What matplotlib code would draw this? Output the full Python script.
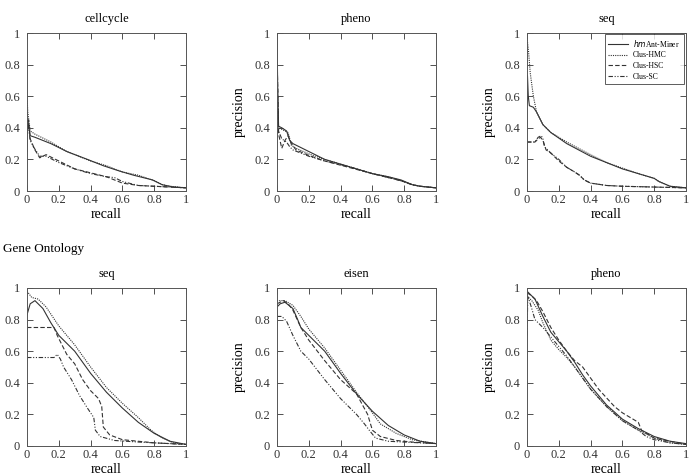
import matplotlib
matplotlib.use('Agg')
import matplotlib.pyplot as plt

plt.rcParams['font.family'] = ['Liberation Serif', 'DejaVu Serif']

# ---- data ----
methods = ['hmAnt-Miner', 'Clus-HMC', 'Clus-HSC', 'Clus-SC']
legend_labels = ['$\\it{hm}$Ant-Miner', 'Clus-HMC', 'Clus-HSC', 'Clus-SC']

# FunCat cellcycle
cc_ant_r = [0, 0.005, 0.02, 0.05, 0.15, 0.25, 0.38, 0.48, 0.57, 0.67, 0.79, 0.85, 0.92, 1]
cc_ant_p = [0.25, 0.45, 0.35, 0.34, 0.30, 0.25, 0.20, 0.16, 0.13, 0.10, 0.07, 0.04, 0.025, 0.02]
cc_hmc_r = [0, 0.005, 0.02, 0.05, 0.15, 0.25, 0.4, 0.5, 0.6, 0.7, 0.8, 0.85, 0.9, 1]
cc_hmc_p = [0.6, 0.5, 0.38, 0.36, 0.31, 0.25, 0.19, 0.16, 0.12, 0.10, 0.065, 0.04, 0.03, 0.02]
cc_hsc_r = [0, 0.01, 0.02, 0.05, 0.08, 0.1, 0.12, 0.2, 0.3, 0.4, 0.5, 0.55, 0.6, 0.7, 0.8, 1]
cc_hsc_p = [0.35, 0.45, 0.33, 0.26, 0.21, 0.22, 0.23, 0.19, 0.14, 0.115, 0.09, 0.07, 0.05, 0.035, 0.03, 0.02]
cc_sc_r = [0, 0.01, 0.02, 0.04, 0.08, 0.12, 0.2, 0.3, 0.4, 0.5, 0.55, 0.6, 0.7, 0.8, 1]
cc_sc_p = [0.5, 0.4, 0.32, 0.28, 0.22, 0.22, 0.18, 0.14, 0.11, 0.09, 0.085, 0.06, 0.035, 0.03, 0.02]

# FunCat pheno
fp_ant_r = [0, 0.005, 0.01, 0.03, 0.06, 0.08, 0.1, 0.2, 0.3, 0.4, 0.5, 0.6, 0.7, 0.78, 0.85, 0.9, 1]
fp_ant_p = [1, 0.6, 0.41, 0.40, 0.38, 0.32, 0.30, 0.25, 0.20, 0.17, 0.14, 0.11, 0.09, 0.07, 0.04, 0.03, 0.02]
fp_hmc_r = [0, 0.005, 0.01, 0.03, 0.07, 0.09, 0.12, 0.2, 0.3, 0.4, 0.5, 0.6, 0.7, 0.78, 0.85, 0.9, 1]
fp_hmc_p = [1, 0.5, 0.40, 0.39, 0.37, 0.29, 0.27, 0.235, 0.20, 0.17, 0.14, 0.11, 0.09, 0.065, 0.04, 0.03, 0.02]
fp_hsc_r = [0, 0.01, 0.03, 0.05, 0.07, 0.09, 0.12, 0.2, 0.3, 0.45, 0.6, 0.7, 0.78, 0.85, 0.9, 1]
fp_hsc_p = [0.9, 0.36, 0.27, 0.32, 0.35, 0.30, 0.26, 0.225, 0.19, 0.15, 0.11, 0.085, 0.065, 0.04, 0.03, 0.02]
fp_sc_r = [0, 0.01, 0.03, 0.06, 0.08, 0.1, 0.2, 0.3, 0.45, 0.6, 0.7, 0.78, 0.85, 0.9, 1]
fp_sc_p = [0.8, 0.38, 0.33, 0.31, 0.28, 0.26, 0.22, 0.19, 0.155, 0.11, 0.085, 0.065, 0.04, 0.03, 0.02]

# FunCat seq
fs_ant_r = [0, 0.003, 0.008, 0.015, 0.04, 0.06, 0.1, 0.15, 0.25, 0.4, 0.5, 0.6, 0.7, 0.8, 0.83, 0.9, 1]
fs_ant_p = [0.55, 0.73, 0.60, 0.54, 0.53, 0.50, 0.42, 0.37, 0.30, 0.22, 0.18, 0.14, 0.11, 0.08, 0.06, 0.03, 0.02]
fs_hmc_r = [0, 0.01, 0.02, 0.04, 0.06, 0.1, 0.15, 0.25, 0.4, 0.5, 0.6, 0.7, 0.8, 0.83, 0.9, 1]
fs_hmc_p = [0.97, 0.88, 0.75, 0.60, 0.50, 0.42, 0.37, 0.31, 0.23, 0.18, 0.145, 0.11, 0.08, 0.06, 0.03, 0.02]
fs_hsc_r = [0, 0.05, 0.07, 0.085, 0.1, 0.12, 0.15, 0.2, 0.25, 0.3, 0.33, 0.36, 0.4, 0.5, 0.6, 0.8, 1]
fs_hsc_p = [0.31, 0.31, 0.33, 0.34, 0.32, 0.26, 0.24, 0.19, 0.15, 0.12, 0.10, 0.07, 0.05, 0.035, 0.03, 0.025, 0.02]
fs_sc_r = [0, 0.05, 0.07, 0.09, 0.1, 0.11, 0.15, 0.2, 0.25, 0.3, 0.33, 0.36, 0.4, 0.5, 0.6, 1]
fs_sc_p = [0.31, 0.31, 0.34, 0.35, 0.33, 0.28, 0.24, 0.20, 0.15, 0.12, 0.10, 0.07, 0.05, 0.035, 0.03, 0.02]

# Gene Ontology seq
gs_ant_r = [0, 0.02, 0.05, 0.1, 0.15, 0.2, 0.3, 0.4, 0.5, 0.6, 0.7, 0.8, 0.9, 1]
gs_ant_p = [0.83, 0.90, 0.92, 0.87, 0.78, 0.70, 0.60, 0.46, 0.34, 0.24, 0.15, 0.08, 0.03, 0.01]
gs_hmc_r = [0, 0.03, 0.07, 0.12, 0.2, 0.3, 0.4, 0.5, 0.6, 0.7, 0.78, 0.85, 0.92, 1]
gs_hmc_p = [0.98, 0.94, 0.93, 0.88, 0.76, 0.64, 0.50, 0.37, 0.27, 0.18, 0.10, 0.05, 0.02, 0.01]
gs_hsc_r = [0, 0.17, 0.19, 0.22, 0.25, 0.3, 0.35, 0.4, 0.45, 0.47, 0.48, 0.52, 0.6, 0.7, 0.8, 1]
gs_hsc_p = [0.75, 0.75, 0.70, 0.64, 0.58, 0.52, 0.42, 0.35, 0.30, 0.25, 0.12, 0.07, 0.04, 0.03, 0.02, 0.01]
gs_sc_r = [0, 0.17, 0.19, 0.21, 0.23, 0.28, 0.33, 0.38, 0.42, 0.43, 0.46, 0.55, 0.7, 0.8, 1]
gs_sc_p = [0.56, 0.56, 0.58, 0.55, 0.50, 0.42, 0.32, 0.24, 0.18, 0.10, 0.06, 0.035, 0.025, 0.02, 0.01]

# Gene Ontology eisen
ge_ant_r = [0, 0.02, 0.05, 0.1, 0.13, 0.15, 0.2, 0.3, 0.4, 0.5, 0.6, 0.7, 0.8, 0.9, 1]
ge_ant_p = [0.88, 0.90, 0.91, 0.87, 0.80, 0.75, 0.70, 0.60, 0.46, 0.33, 0.22, 0.13, 0.07, 0.03, 0.015]
ge_hmc_r = [0, 0.05, 0.1, 0.15, 0.2, 0.3, 0.4, 0.5, 0.6, 0.65, 0.75, 0.85, 1]
ge_hmc_p = [0.92, 0.92, 0.89, 0.82, 0.74, 0.62, 0.48, 0.34, 0.21, 0.14, 0.08, 0.04, 0.015]
ge_hsc_r = [0, 0.04, 0.07, 0.1, 0.15, 0.2, 0.3, 0.4, 0.5, 0.57, 0.6, 0.65, 0.75, 0.85, 1]
ge_hsc_p = [0.90, 0.92, 0.90, 0.86, 0.75, 0.67, 0.54, 0.42, 0.33, 0.20, 0.10, 0.06, 0.035, 0.025, 0.015]
ge_sc_r = [0, 0.03, 0.06, 0.1, 0.15, 0.2, 0.3, 0.4, 0.5, 0.55, 0.58, 0.62, 0.7, 0.8, 1]
ge_sc_p = [0.82, 0.82, 0.79, 0.70, 0.60, 0.55, 0.42, 0.30, 0.20, 0.14, 0.10, 0.05, 0.03, 0.025, 0.015]

# Gene Ontology pheno
gp_ant_r = [0, 0.02, 0.05, 0.1, 0.15, 0.2, 0.25, 0.3, 0.35, 0.4, 0.5, 0.6, 0.7, 0.8, 0.9, 1]
gp_ant_p = [0.98, 0.96, 0.93, 0.82, 0.72, 0.66, 0.60, 0.53, 0.45, 0.38, 0.26, 0.17, 0.11, 0.06, 0.03, 0.015]
gp_hmc_r = [0, 0.03, 0.07, 0.1, 0.15, 0.2, 0.25, 0.3, 0.4, 0.5, 0.6, 0.7, 0.8, 0.9, 1]
gp_hmc_p = [0.95, 0.92, 0.86, 0.78, 0.67, 0.61, 0.56, 0.50, 0.36, 0.25, 0.16, 0.10, 0.05, 0.02, 0.01]
gp_hsc_r = [0, 0.03, 0.06, 0.1, 0.15, 0.2, 0.25, 0.3, 0.35, 0.45, 0.55, 0.6, 0.7, 0.72, 0.8, 0.9, 1]
gp_hsc_p = [0.97, 0.95, 0.92, 0.85, 0.75, 0.67, 0.60, 0.54, 0.50, 0.36, 0.25, 0.21, 0.15, 0.10, 0.05, 0.03, 0.01]
gp_sc_r = [0, 0.005, 0.03, 0.05, 0.1, 0.15, 0.2, 0.25, 0.3, 0.4, 0.5, 0.6, 0.7, 0.75, 0.8, 0.9, 1]
gp_sc_p = [0.70, 0.95, 0.87, 0.80, 0.75, 0.69, 0.63, 0.57, 0.50, 0.36, 0.25, 0.16, 0.10, 0.06, 0.04, 0.02, 0.01]

panels = [
    ('cellcycle', [(cc_ant_r, cc_ant_p), (cc_hmc_r, cc_hmc_p), (cc_hsc_r, cc_hsc_p), (cc_sc_r, cc_sc_p)]),
    ('pheno', [(fp_ant_r, fp_ant_p), (fp_hmc_r, fp_hmc_p), (fp_hsc_r, fp_hsc_p), (fp_sc_r, fp_sc_p)]),
    ('seq', [(fs_ant_r, fs_ant_p), (fs_hmc_r, fs_hmc_p), (fs_hsc_r, fs_hsc_p), (fs_sc_r, fs_sc_p)]),
    ('seq', [(gs_ant_r, gs_ant_p), (gs_hmc_r, gs_hmc_p), (gs_hsc_r, gs_hsc_p), (gs_sc_r, gs_sc_p)]),
    ('eisen', [(ge_ant_r, ge_ant_p), (ge_hmc_r, ge_hmc_p), (ge_hsc_r, ge_hsc_p), (ge_sc_r, ge_sc_p)]),
    ('pheno', [(gp_ant_r, gp_ant_p), (gp_hmc_r, gp_hmc_p), (gp_hsc_r, gp_hsc_p), (gp_sc_r, gp_sc_p)]),
]

styles = ['-', (0, (1, 1)), (0, (4, 2)), (0, (4, 1.5, 1, 1.5, 1, 1.5))]
ticks = [0, 0.2, 0.4, 0.6, 0.8, 1]
ticklabels = ['0', '0.2', '0.4', '0.6', '0.8', '1']

fig = plt.figure(figsize=(6.91, 4.76), dpi=100)
lefts = [27, 277, 527]
tops = [33, 288]

for i, (title, series) in enumerate(panels):
    row, col = divmod(i, 3)
    ax = fig.add_axes([lefts[col] / 691., (476 - tops[row] - 158) / 476., 159 / 691., 158 / 476.])
    for (r, p), ls, lab in zip(series, styles, legend_labels):
        ax.plot(r, p, color='#333333', lw=0.8, linestyle=ls, label=lab)
    ax.set_xlim(0, 1)
    ax.set_ylim(0, 1)
    ax.set_xticks(ticks)
    ax.set_xticklabels(ticklabels)
    ax.set_yticks(ticks)
    ax.set_yticklabels(ticklabels)
    ax.tick_params(direction='in', length=4, width=0.6, top=True, right=True,
                   labelsize=9, colors='#333333', pad=5)
    ax.tick_params(axis='x', pad=2.5)
    for s in ax.spines.values():
        s.set_linewidth(0.7)
        s.set_color('#555555')
    ax.set_title(title, fontsize=9, pad=8)
    ax.set_xlabel('recall', fontsize=10)
    ax.xaxis.set_label_coords(0.5, -17 / 158.)
    ax.set_ylabel('precision', fontsize=10)
    ax.yaxis.set_label_coords(-31 / 159., 0.5)
    if i == 2:
        leg = ax.legend(loc='upper right', fontsize=5.5, frameon=True, fancybox=False,
                        edgecolor='#333333', handlelength=2.6, handletextpad=0.6,
                        borderpad=0.5, labelspacing=0.35, borderaxespad=0,
                        bbox_to_anchor=(0.985, 0.995))
        leg.get_frame().set_linewidth(0.7)

fig.text(3 / 691., 1 - 249 / 476., 'Gene Ontology', fontsize=9.5, va='center', ha='left')

fig.savefig('out.png', dpi=100)
